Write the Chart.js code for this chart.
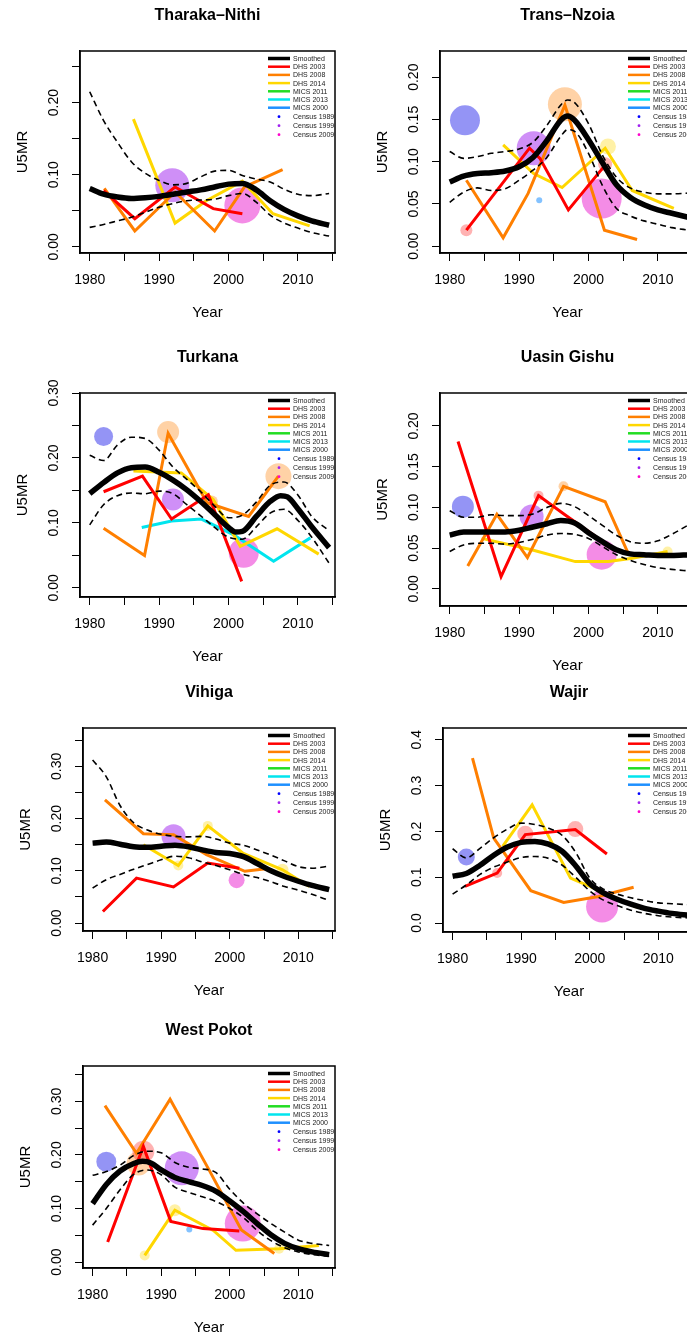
<!DOCTYPE html>
<html>
<head>
<meta charset="utf-8">
<script src="https://cdn.jsdelivr.net/npm/chart.js@4.4.0/dist/chart.umd.min.js"></script>
<style>
  body { margin: 0; background: #fff; width: 687px; height: 1340px; overflow: hidden; position: relative; }
  canvas { position: absolute; }
</style>
</head>
<body>
<script>
// ---------- Data ----------
const panelNames = ['Tharaka\u2013Nithi', 'Trans\u2013Nzoia', 'Turkana', 'Uasin Gishu', 'Vihiga', 'Wajir', 'West Pokot'];
const legendLabels = ['Smoothed', 'DHS 2003', 'DHS 2008', 'DHS 2014', 'MICS 2011', 'MICS 2013', 'MICS 2000', 'Census 1989', 'Census 1999', 'Census 2009'];

const yMins = [-0.0085, -0.008, -0.014, -0.021, -0.0153, -0.0196, -0.011];
const yMaxs = [0.2715, 0.231, 0.30, 0.2405, 0.3735, 0.4255, 0.366];
const yTickSteps = [0.05, 0.05, 0.05, 0.05, 0.05, 0.1, 0.05];
const yLabelEvery = [0.1, 0.05, 0.1, 0.05, 0.1, 0.1, 0.1];
const yDecimals = [2, 2, 2, 2, 2, 1, 2];
const xMin = 1978.6, xMax = 2015.35;

// Tharaka-Nithi
const tnSmooth = [[1980,.081],[1982,.073],[1984,.069],[1986,.067],[1988,.068],[1990,.070],[1992,.073],[1994,.076],[1996,.079],[1998,.083],[2000,.087],[2002,.088],[2004,.079],[2006,.064],[2008,.052],[2010,.043],[2012,.036],[2014.5,.030]];
const tnUpper = [[1980,.215],[1982,.175],[1984,.145],[1986,.118],[1988,.102],[1990,.092],[1992,.086],[1994,.088],[1996,.097],[1998,.105],[2000,.106],[2002,.099],[2004,.094],[2006,.090],[2008,.080],[2010,.073],[2012,.071],[2014.5,.074]];
const tnLower = [[1980,.027],[1982,.031],[1984,.036],[1986,.041],[1988,.048],[1990,.055],[1992,.060],[1994,.064],[1996,.065],[1998,.066],[2000,.071],[2002,.074],[2004,.062],[2006,.044],[2008,.033],[2010,.026],[2012,.020],[2014.5,.015]];
const tnDhs03 = [[1982,.078],[1986.5,.039],[1992.3,.083],[1997.8,.053],[2002,.046]];
const tnDhs08 = [[1982.1,.081],[1986.5,.022],[1992.3,.076],[1998,.022],[2002.3,.083],[2007.8,.107]];
const tnDhs14 = [[1986.3,.177],[1992.3,.033],[1996.8,.064],[2002,.091],[2006.4,.046],[2011.7,.029]];
const tnCen99 = [[1991.9,.0855,17]];
const tnCen09 = [[2002,.0575,18]];

// Trans-Nzoia
const tzSmooth = [[1980,.076],[1982,.083],[1984,.086],[1986,.087],[1988,.089],[1990,.094],[1992,.105],[1994,.125],[1996,.149],[1997,.154],[1998,.149],[2000,.126],[2002,.099],[2004,.073],[2006,.058],[2008,.049],[2010,.043],[2012,.039],[2014.5,.034]];
const tzUpper = [[1980,.112],[1982,.104],[1984,.106],[1986,.110],[1988,.112],[1990,.115],[1992,.123],[1994,.143],[1996,.167],[1997,.173],[1998,.170],[2000,.145],[2002,.108],[2004,.082],[2006,.069],[2008,.064],[2010,.062],[2012,.062],[2014.5,.063]];
const tzLower = [[1980,.052],[1982,.064],[1984,.069],[1986,.066],[1988,.068],[1990,.078],[1992,.090],[1994,.105],[1996,.130],[1997,.138],[1998,.136],[2000,.110],[2002,.072],[2004,.045],[2006,.036],[2008,.030],[2010,.026],[2012,.022],[2014.5,.019]];
const tzDhs03 = [[1982.4,.019],[1991.5,.116],[1993,.104],[1997.1,.043],[2002.4,.096]];
const tzDhs08 = [[1982.4,.078],[1987.7,.010],[1991.3,.0625],[1996.6,.167],[2002.3,.019],[2007,.008]];
const tzDhs14 = [[1987.7,.120],[1992.1,.086],[1996.2,.0695],[2002.4,.116],[2006.3,.066],[2012.3,.0447]];
const tzMics00 = [[1992.9,.0545,3]];
const tzCen89 = [[1982.2,.149,15]];
const tzCen99 = [[1992.1,.116,17]];
const tzCen09 = [[2001.9,.0565,20]];
const tzPts03 = [[1982.4,.019,6],[2002.4,.097,7]];
const tzPts08 = [[1996.6,.168,17]];
const tzPts14 = [[2002.8,.118,8]];

// Turkana
const tuSmooth = [[1980,.145],[1982,.162],[1984,.177],[1986,.185],[1988,.186],[1990,.178],[1992,.166],[1994,.151],[1996,.133],[1998,.113],[2000,.093],[2001,.086],[2002,.087],[2004,.110],[2006,.133],[2007.5,.142],[2008.5,.140],[2010,.122],[2012,.094],[2014.5,.062]];
const tuUpper = [[1980,.204],[1982,.196],[1984,.220],[1986,.232],[1988,.230],[1990,.212],[1992,.186],[1994,.167],[1996,.148],[1998,.126],[2000,.108],[2002,.112],[2004,.132],[2006,.158],[2008,.163],[2010,.143],[2012,.110],[2014.5,.088]];
const tuLower = [[1980,.097],[1982,.128],[1984,.142],[1986,.146],[1988,.145],[1990,.149],[1992,.145],[1994,.128],[1996,.111],[1998,.093],[2000,.078],[2002,.075],[2004,.094],[2006,.115],[2008,.121],[2010,.104],[2012,.078],[2014.5,.038]];
const tuDhs03 = [[1982,.148],[1987.6,.172],[1991.8,.106],[1997.1,.1435],[2001.9,.010]];
const tuDhs08 = [[1982,.092],[1987.9,.050],[1991.3,.238],[1996.9,.131],[2002.9,.110],[2007.2,.172]];
const tuDhs14 = [[1986.3,.180],[1993.2,.177],[1997.8,.136],[2001.7,.064],[2007,.091],[2013,.052]];
const tuMics13 = [[1987.5,.093],[1991.8,.103],[1996.1,.106],[2000.7,.082],[2006.5,.041],[2011.8,.077]];
const tuCen89 = [[1982,.233,9.5]];
const tuCen99 = [[1992,.136,11]];
const tuCen09 = [[2002.2,.054,15]];
const tuPts08 = [[1991.3,.240,11],[2007.2,.172,13],[1997.6,.133,6]];

// Uasin Gishu
const ugSmooth = [[1980,.066],[1982,.070],[1984,.070],[1986,.070],[1988,.070],[1990,.072],[1992,.076],[1994,.080],[1996,.084],[1998,.081],[2000,.069],[2002,.058],[2004,.048],[2006,.043],[2008,.042],[2010,.041],[2012,.041],[2014.5,.042]];
const ugUpper = [[1980,.096],[1982,.088],[1984,.088],[1986,.091],[1988,.090],[1990,.090],[1992,.092],[1994,.100],[1996,.105],[1998,.101],[2000,.090],[2002,.078],[2004,.066],[2006,.058],[2008,.056],[2010,.059],[2012,.067],[2014.5,.079]];
const ugLower = [[1980,.046],[1982,.054],[1984,.056],[1986,.056],[1988,.055],[1990,.057],[1992,.061],[1994,.066],[1996,.068],[1998,.067],[2000,.062],[2002,.052],[2004,.042],[2006,.035],[2008,.030],[2010,.026],[2012,.024],[2014.5,.022]];
const ugDhs03 = [[1981.2,.181],[1987.4,.015],[1992.8,.1145],[1996.6,.091],[2002.4,.056]];
const ugDhs08 = [[1982.6,.028],[1986.8,.0915],[1991.2,.0385],[1996.4,.126],[2002.4,.107],[2005.8,.042]];
const ugDhs14 = [[1984.6,.062],[1991.8,.048],[1998.1,.0335],[2002.9,.0335],[2006.3,.0375],[2011.4,.046]];
const ugCen89 = [[1981.9,.101,11]];
const ugCen99 = [[1991.8,.089,12]];
const ugCen09 = [[2001.9,.042,15]];
const ugPts03 = [[1992.8,.1145,5]];
const ugPts08 = [[1996.4,.126,5]];
const ugPts14 = [[2011.4,.046,5]];

// Vihiga
const viSmooth = [[1980,.153],[1982,.155],[1984,.151],[1986,.146],[1988,.145],[1990,.147],[1992,.149],[1994,.146],[1996,.140],[1998,.135],[2000,.133],[2002,.127],[2004,.114],[2006,.100],[2008,.089],[2010,.080],[2012,.072],[2014.5,.064]];
const viUpper = [[1980,.312],[1982,.280],[1984,.225],[1986,.192],[1988,.178],[1990,.170],[1992,.166],[1994,.165],[1996,.166],[1998,.161],[2000,.153],[2002,.149],[2004,.140],[2006,.130],[2008,.119],[2010,.108],[2012,.105],[2014.5,.109]];
const viLower = [[1980,.067],[1982,.083],[1984,.093],[1986,.103],[1988,.112],[1990,.121],[1992,.128],[1994,.125],[1996,.117],[1998,.110],[2000,.102],[2002,.093],[2004,.087],[2006,.079],[2008,.070],[2010,.063],[2012,.055],[2014.5,.043]];
const viDhs03 = [[1981.5,.022],[1986.4,.086],[1991.8,.069],[1996.8,.115],[2001.4,.105]];
const viDhs08 = [[1981.8,.236],[1987.4,.171],[1991.8,.169],[1996.6,.131],[2002.2,.099],[2005.3,.104]];
const viDhs14 = [[1987.4,.150],[1992.5,.110],[1996.8,.186],[2001.9,.134],[2007.7,.102],[2011.6,.070]];
const viCen99 = [[1991.8,.166,12]];
const viCen09 = [[2001,.082,8]];
const viPts14 = [[1996.8,.186,5],[2007.7,.102,6],[1992.5,.110,5]];

// Wajir
const waSmooth = [[1980,.102],[1982,.108],[1984,.126],[1986,.148],[1988,.166],[1990,.176],[1992,.178],[1994,.172],[1996,.156],[1998,.124],[2000,.086],[2002,.066],[2004,.052],[2006,.041],[2008,.032],[2010,.026],[2012,.021],[2014.5,.017]];
const waUpper = [[1980,.162],[1982,.142],[1984,.163],[1986,.186],[1988,.205],[1990,.218],[1992,.215],[1994,.207],[1996,.191],[1998,.153],[2000,.098],[2002,.074],[2004,.063],[2006,.055],[2008,.049],[2010,.044],[2012,.042],[2014.5,.040]];
const waLower = [[1980,.063],[1982,.083],[1984,.106],[1986,.122],[1988,.133],[1990,.143],[1992,.145],[1994,.141],[1996,.126],[1998,.099],[2000,.070],[2002,.050],[2004,.038],[2006,.028],[2008,.021],[2010,.016],[2012,.013],[2014.5,.011]];
const waDhs03 = [[1981.8,.080],[1986.5,.109],[1990.6,.193],[1997.9,.204],[2002.5,.1505]];
const waDhs08 = [[1982.9,.360],[1986,.185],[1991.4,.0705],[1996.2,.045],[2001.3,.058],[2006.4,.078]];
const waDhs14 = [[1987.3,.167],[1991.6,.258],[1997.2,.098],[2002.3,.065],[2006.6,.036],[2011.9,.022]];
const waCen89 = [[1982,.144,8.5]];
const waCen09 = [[2001.8,.036,16]];
const waPts03 = [[1990.6,.195,8],[1997.9,.205,8],[1986.5,.109,5]];

// West Pokot
const wpSmooth = [[1980,.109],[1982,.145],[1984,.170],[1986,.184],[1987.3,.188],[1988.5,.185],[1990,.172],[1992,.158],[1994,.150],[1996,.143],[1998,.132],[2000,.114],[2002,.094],[2004,.072],[2006,.051],[2008,.035],[2010,.025],[2012,.019],[2014.5,.014]];
const wpUpper = [[1980,.162],[1982,.169],[1984,.181],[1986,.199],[1988,.207],[1990,.204],[1992,.186],[1994,.177],[1996,.174],[1998,.167],[2000,.136],[2002,.110],[2004,.090],[2006,.072],[2008,.056],[2010,.041],[2012,.035],[2014.5,.031]];
const wpLower = [[1980,.069],[1982,.100],[1984,.135],[1986,.164],[1988,.172],[1990,.163],[1992,.140],[1994,.130],[1996,.122],[1998,.113],[2000,.100],[2002,.083],[2004,.059],[2006,.040],[2008,.027],[2010,.019],[2012,.014],[2014.5,.011]];
const wpDhs03 = [[1982.2,.0375],[1987.4,.216],[1991.4,.076],[1996.1,.0625],[2001.4,.058]];
const wpDhs08 = [[1981.8,.292],[1986.4,.203],[1991.3,.304],[1996.9,.174],[2001.7,.060],[2006.5,.016]];
const wpDhs14 = [[1987.6,.0125],[1992,.097],[1997.6,.059],[2000.9,.022],[2007.2,.025],[2013,.031]];
const wpMics00 = [[1994.1,.061,3]];
const wpCen89 = [[1982,.1875,10]];
const wpCen99 = [[1993,.175,17]];
const wpCen09 = [[2001.9,.072,18]];
const wpPts03 = [[1987.4,.206,11]];
const wpPts08 = [[1986.7,.184,12]];
const wpPts14 = [[1992,.097,6],[1987.6,.0125,5],[2007.2,.025,5]];

// ---------- Styles ----------
const lineColors = ['#FF0000', '#FF7F00', '#FFD700', '#22DD22', '#00E5EE', '#1E90FF'];
const censusFill = ['rgba(0,0,230,0.42)', 'rgba(160,32,240,0.5)', 'rgba(230,0,200,0.45)'];
const censusDot = ['#0000FF', '#A020F0', '#FF00CC'];
const ptsFill = ['rgba(255,0,0,0.3)', 'rgba(255,127,0,0.35)', 'rgba(255,215,0,0.35)'];
const micsDotFill = 'rgba(30,144,255,0.55)';
const FONT = '"Liberation Sans", Arial, Helvetica, sans-serif';

// table per panel, built from the arrays above
const panels = [
  { smooth: tnSmooth, upper: tnUpper, lower: tnLower, lines: [tnDhs03, tnDhs08, tnDhs14, [], [], []], census: [[], tnCen99, tnCen09], pts: [[], [], []], mics: [] },
  { smooth: tzSmooth, upper: tzUpper, lower: tzLower, lines: [tzDhs03, tzDhs08, tzDhs14, [], [], []], census: [tzCen89, tzCen99, tzCen09], pts: [tzPts03, tzPts08, tzPts14], mics: tzMics00 },
  { smooth: tuSmooth, upper: tuUpper, lower: tuLower, lines: [tuDhs03, tuDhs08, tuDhs14, [], tuMics13, []], census: [tuCen89, tuCen99, tuCen09], pts: [[], tuPts08, []], mics: [] },
  { smooth: ugSmooth, upper: ugUpper, lower: ugLower, lines: [ugDhs03, ugDhs08, ugDhs14, [], [], []], census: [ugCen89, ugCen99, ugCen09], pts: [ugPts03, ugPts08, ugPts14], mics: [] },
  { smooth: viSmooth, upper: viUpper, lower: viLower, lines: [viDhs03, viDhs08, viDhs14, [], [], []], census: [[], viCen99, viCen09], pts: [[], [], viPts14], mics: [] },
  { smooth: waSmooth, upper: waUpper, lower: waLower, lines: [waDhs03, waDhs08, waDhs14, [], [], []], census: [waCen89, [], waCen09], pts: [waPts03, [], []], mics: [] },
  { smooth: wpSmooth, upper: wpUpper, lower: wpLower, lines: [wpDhs03, wpDhs08, wpDhs14, [], [], []], census: [wpCen89, wpCen99, wpCen09], pts: [wpPts03, wpPts08, wpPts14], mics: wpMics00 }
];

// layout of the 2-column grid
const panelLeft = [0, 360, 0, 360, 0, 360, 0];
const panelTop = [0, 0, 342, 342, 677, 677, 1015];
const boxLeft = [80, 80, 80, 80, 83, 83, 83];
const boxTop = 51;
const boxBottom = [253, 253, 255, 264, 254, 255, 253];
const CW = 360, CH = 340;

const xy = arr => arr.map(p => ({ x: p[0], y: p[1] }));
const xyr = arr => arr.map(p => ({ x: p[0], y: p[1], r: p[2] }));

function yLabel(i, v) {
  const k = Math.round(v / yLabelEvery[i] * 1000) / 1000;
  return Number.isInteger(k) ? v.toFixed(yDecimals[i]) : '';
}

// Draws the frame, rotated y labels, axis titles, panel title and legend
const decoPlugin = {
  id: 'deco',
  afterDraw(chart, args, opts) {
    const i = opts.idx;
    const { ctx, chartArea: a } = chart;
    const y = chart.scales.y;
    ctx.save();
    ctx.strokeStyle = '#000';
    ctx.lineWidth = 1.5;
    ctx.strokeRect(a.left, a.top, a.right - a.left, a.bottom - a.top);

    ctx.fillStyle = '#000';
    ctx.textAlign = 'center';
    ctx.textBaseline = 'middle';
    ctx.font = '14px ' + FONT;
    y.ticks.forEach(t => {
      const lab = t.label || yLabel(i, t.value);
      if (!lab) return;
      ctx.save();
      ctx.translate(a.left - 26, y.getPixelForValue(t.value));
      ctx.rotate(-Math.PI / 2);
      ctx.fillText(lab, 0, 0);
      ctx.restore();
    });

    ctx.font = '15px ' + FONT;
    ctx.save();
    ctx.translate(a.left - 57, (a.top + a.bottom) / 2);
    ctx.rotate(-Math.PI / 2);
    ctx.fillText('U5MR', 0, 0);
    ctx.restore();
    ctx.fillText('Year', (a.left + a.right) / 2, a.bottom + 60);

    ctx.font = 'bold 16px ' + FONT;
    ctx.fillText(panelNames[i], (a.left + a.right) / 2, 16);

    // legend
    const lx = a.right - 67;
    let ly = a.top + 7.5;
    ctx.font = '7px ' + FONT;
    ctx.textAlign = 'left';
    legendLabels.forEach((lab, k) => {
      if (k < 7) {
        ctx.strokeStyle = k === 0 ? '#000' : lineColors[k - 1];
        ctx.lineWidth = k === 0 ? 3.5 : 2.5;
        ctx.beginPath();
        ctx.moveTo(lx, ly);
        ctx.lineTo(lx + 22, ly);
        ctx.stroke();
      } else {
        ctx.fillStyle = censusDot[k - 7];
        ctx.beginPath();
        ctx.arc(lx + 11, ly, 1.4, 0, Math.PI * 2);
        ctx.fill();
      }
      ctx.fillStyle = '#222';
      ctx.fillText(lab, lx + 25, ly + 0.5);
      ly += k < 6 ? 8.2 : 9;
    });
    ctx.restore();
  }
};

panels.forEach((p, i) => {
  const canvas = document.createElement('canvas');
  canvas.width = CW;
  canvas.height = CH;
  canvas.style.left = panelLeft[i] + 'px';
  canvas.style.top = panelTop[i] + 'px';
  document.body.appendChild(canvas);

  const datasets = [];
  p.census.forEach((c, k) => {
    if (c.length) datasets.push({ type: 'bubble', data: xyr(c), backgroundColor: censusFill[k], borderWidth: 0, order: 5 });
  });
  p.pts.forEach((c, k) => {
    if (c.length) datasets.push({ type: 'bubble', data: xyr(c), backgroundColor: ptsFill[k], borderWidth: 0, order: 5 });
  });
  if (p.mics.length) datasets.push({ type: 'bubble', data: xyr(p.mics), backgroundColor: micsDotFill, borderWidth: 0, order: 4 });
  p.lines.forEach((s, k) => {
    if (s.length) datasets.push({ type: 'scatter', showLine: true, data: xy(s), borderColor: lineColors[k], borderWidth: 3, pointRadius: 0, tension: 0, order: 3 });
  });
  [p.upper, p.lower].forEach(s => {
    datasets.push({ type: 'scatter', showLine: true, data: xy(s), borderColor: '#000', borderWidth: 1.6, borderDash: [6, 4], pointRadius: 0, tension: 0.4, cubicInterpolationMode: 'monotone', order: 2 });
  });
  datasets.push({ type: 'scatter', showLine: true, data: xy(p.smooth), borderColor: '#000', borderWidth: 5.5, pointRadius: 0, tension: 0.4, cubicInterpolationMode: 'monotone', order: 1 });

  new Chart(canvas, {
    type: 'scatter',
    data: { datasets },
    options: {
      responsive: false,
      animation: false,
      devicePixelRatio: 1,
      events: [],
      layout: { autoPadding: false, padding: { top: boxTop, right: CW - 335, left: 0, bottom: 0 } },
      plugins: { legend: { display: false }, tooltip: { enabled: false }, deco: { idx: i } },
      scales: {
        x: {
          type: 'linear', min: xMin, max: xMax,
          afterFit: s => { s.height = CH - boxBottom[i]; },
          border: { display: true, color: '#000', width: 1.5 },
          grid: { drawOnChartArea: false, drawTicks: true, tickLength: 8, color: '#000', lineWidth: 1 },
          ticks: {
            stepSize: 5, includeBounds: false, autoSkip: false, maxRotation: 0, padding: 11,
            color: '#000', font: { family: FONT, size: 14 },
            callback: v => (v % 10 === 0 ? String(v) : '')
          }
        },
        y: {
          type: 'linear', min: yMins[i], max: yMaxs[i],
          afterFit: s => { s.width = boxLeft[i]; },
          border: { display: true, color: '#000', width: 1.5 },
          grid: { drawOnChartArea: false, drawTicks: true, tickLength: 8, color: '#000', lineWidth: 1 },
          ticks: {
            display: false, stepSize: yTickSteps[i], includeBounds: false, autoSkip: false,
            callback: v => yLabel(i, v)
          }
        }
      }
    },
    plugins: [decoPlugin]
  });
});
</script>
</body>
</html>
